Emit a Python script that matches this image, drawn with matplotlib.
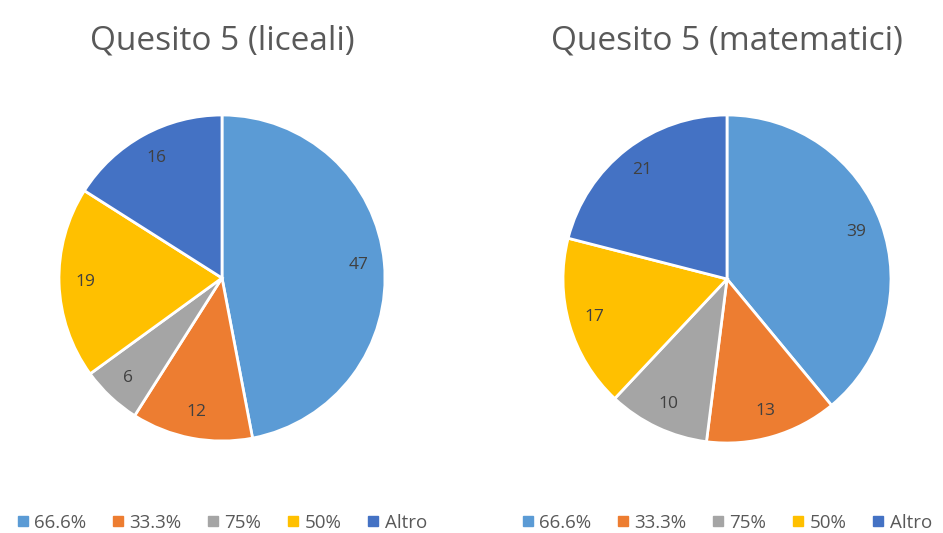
import matplotlib.pyplot as plt
from matplotlib.lines import Line2D

plt.rcParams['font.family'] = ['Open Sans', 'DejaVu Sans']

categorie = ['66.6%', '33.3%', '75%', '50%', 'Altro']
colori = ['#5B9BD5', '#ED7D31', '#A5A5A5', '#FFC000', '#4472C4']
liceali = [47, 12, 6, 19, 16]
matematici = [39, 13, 10, 17, 21]
titoli = ['Quesito 5 (liceali)', 'Quesito 5 (matematici)']

fig = plt.figure(figsize=(9.43, 5.33), dpi=100)

# posizioni in pixel (centro x, centro y dall'alto, raggio)
pie_pos = [(222, 278, 163), (727, 279, 164)]
W, H = 943, 533

for (cx, cy, r), valori, titolo in zip(pie_pos, [liceali, matematici], titoli):
    ax = fig.add_axes([(cx - r) / W, (H - cy - r) / H, 2 * r / W, 2 * r / H])
    wedges, testi = ax.pie(valori, colors=colori, startangle=90, counterclock=False,
                           labels=[str(v) for v in valori], labeldistance=0.84,
                           wedgeprops=dict(edgecolor='white', linewidth=2),
                           textprops=dict(color='#404040', fontsize=12.5))
    for t in testi:
        t.set_ha('center')
        t.set_va('center')
    ax.set_xlim(-1, 1)
    ax.set_ylim(-1, 1)
    ax.set_aspect('equal')
    ax.axis('off')
    fig.text(cx / W, 1 - 41 / H, titolo, ha='center', va='center',
             fontsize=24, color='#595959')
    handles = [Line2D([], [], marker='s', linestyle='', markersize=7,
                      markerfacecolor=c, markeredgecolor=c) for c in colori]
    fig.legend(handles, categorie, loc='center', bbox_to_anchor=(cx / W, 1 - 523 / H),
               ncol=5, frameon=False, fontsize=13.5, handlelength=0.6,
               handletextpad=0.3, columnspacing=1.4, labelcolor='#595959')

fig.savefig('out.png', dpi=100)
